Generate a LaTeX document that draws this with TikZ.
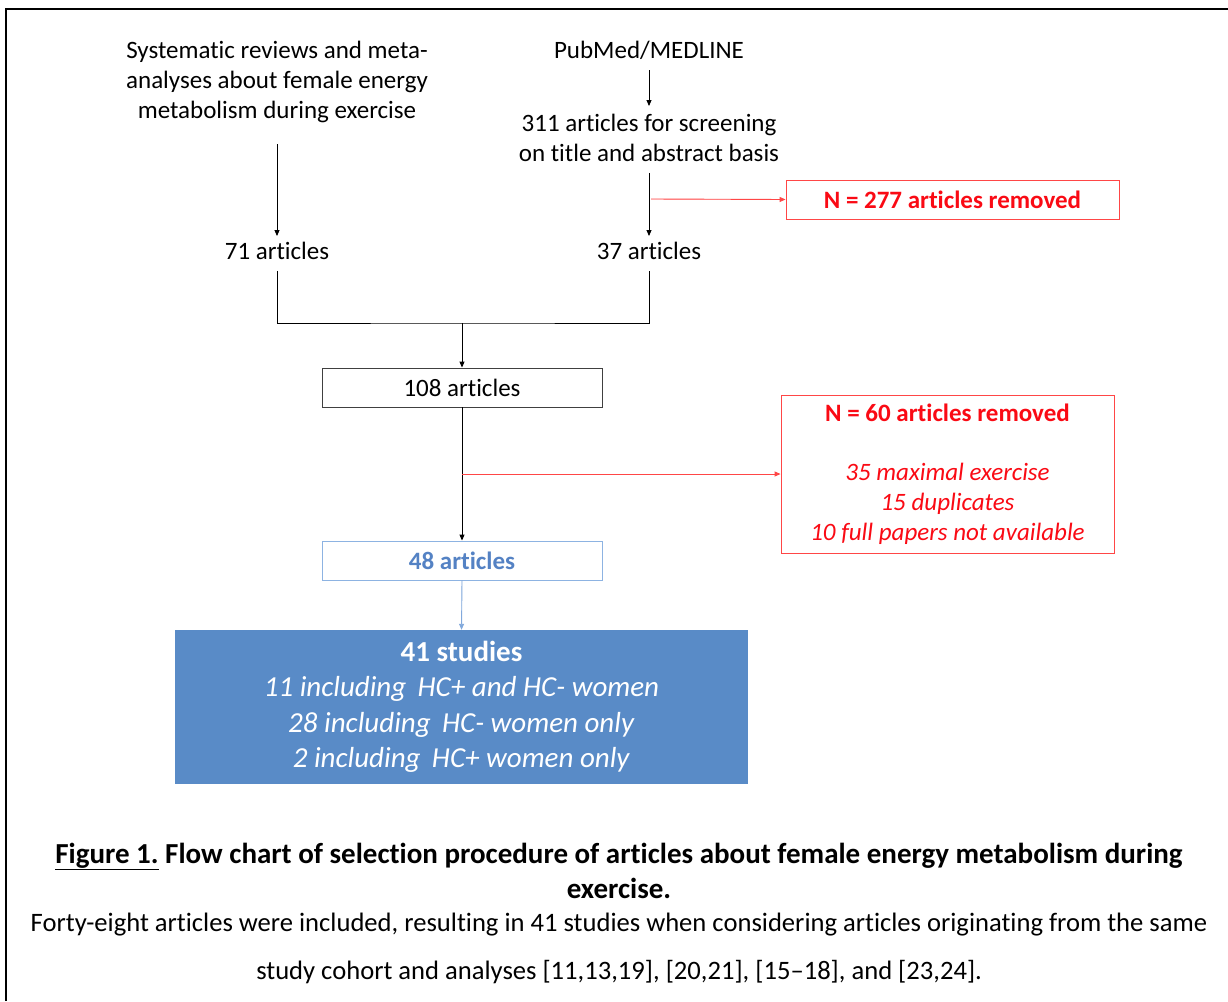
\documentclass[tikz,border=0pt]{standalone}
\usepackage{fontspec}
\setmainfont{Carlito}[Ligatures={NoCommon}]
\usetikzlibrary{arrows.meta}
\definecolor{rline}{RGB}{255,70,70}
\definecolor{rtext}{RGB}{250,10,20}
\definecolor{btext}{RGB}{84,130,196}
\definecolor{bline}{RGB}{141,179,226}
\definecolor{bfill}{RGB}{89,139,199}
\tikzset{
  arr/.style={line width=0.9pt,-{Triangle[length=6pt,width=5pt]}},
  plain/.style={line width=0.9pt},
  rarr/.style={line width=0.9pt,draw=rline,-{Triangle[length=6pt,width=5pt]},fill=rline},
  barr/.style={line width=0.9pt,draw=bline!80!btext,-{Triangle[length=6pt,width=5pt]},fill=bline!80!btext},
  txt/.style={inner sep=0pt,align=center,font=\fontsize{25}{30}\selectfont},
  box/.style={inner sep=0pt,align=center,font=\fontsize{25}{30}\selectfont,line width=0.9pt},
}
\begin{document}
\begin{tikzpicture}[x=1pt,y=-1pt]
\useasboundingbox (0,0) rectangle (1228,1001);
\fill[white] (0,0) rectangle (1228,1001);
% partial frame
\draw[line width=2.6pt] (6,1001) -- (6,9) -- (1228,9);

% left branch
\node[txt] (sys) at (277,82) {Systematic reviews and meta-\\analyses about female energy\\metabolism during exercise};
\node[txt] (a71) at (277,251) {71 articles};

% right branch
\node[txt] (pub) at (649,50) {PubMed/MEDLINE};
\node[txt] (scr) at (649,138) {311 articles for screening\\on title and abstract basis};
\node[txt] (a37) at (649,251) {37 articles};
\node[box,draw=rline,text=rtext,minimum width=333pt,minimum height=39pt] (rem1) at (952.5,199.5) {\textbf{N = 277 articles removed}};

\coordinate (split1) at (649,199);
\coordinate (join) at (462,323);

% merge
\node[box,draw=black!75,minimum width=280pt,minimum height=39pt] (a108) at (462,387.5) {108 articles};
\node[box,draw=rline,text=rtext,minimum width=333pt,minimum height=158pt] (rem2) at (947.5,474) {\textbf{N = 60 articles removed}\\[29pt]\textit{35 maximal exercise}\\\textit{15 duplicates}\\\textit{10 full papers not available}};
\coordinate (split2) at (462,474);

\node[box,draw=bline,text=btext,minimum width=280pt,minimum height=39pt] (a48) at (462,560.5) {\textbf{48 articles}};

\node[inner sep=0pt,align=center,fill=bfill,text=white,minimum width=573pt,minimum height=154pt,font=\fontsize{29}{35.5}\selectfont] (stud) at (461.5,707) {\textbf{41 studies}\\\textit{11 including\, HC+ and HC- women}\\\textit{28 including\, HC- women only}\\\textit{2 including\, HC+ women only}};

% connectors
\draw[arr] ([yshift=-21pt]sys.south) -- ([yshift=6pt]a71.north);
\draw[arr] ([yshift=-11pt]pub.south) -- ([yshift=8pt]scr.north);
\draw[arr] ([yshift=-11pt]scr.south) -- ([yshift=6pt]a37.north);
\draw[rarr] ([xshift=2pt]split1) -- (rem1.west);
\draw[plain] ([yshift=-11pt]a71.south) |- (join) -| ([yshift=-11pt]a37.south);
\draw[arr] (join) -- (a108.north);
\draw[arr] (a108.south) -- (a48.north);
\draw[rarr] (split2) -- (rem2.west);
\draw[barr] (a48.south) -- (stud.north);

% caption
\node[inner sep=0pt,align=center,font=\fontsize{29}{35}\bfseries\selectfont] (cap) at (619,870.5) {\underline{Figure 1.} Flow chart of selection procedure of articles about female energy metabolism during\\exercise.};
\node[inner sep=0pt,align=center,font=\fontsize{26.6}{48}\selectfont] (desc) at (619,948) {Forty-eight articles were included, resulting in 41 studies when considering articles originating from the same\\study cohort and analyses [11,13,19], [20,21], [15--18], and [23,24].};
\end{tikzpicture}
\end{document}
